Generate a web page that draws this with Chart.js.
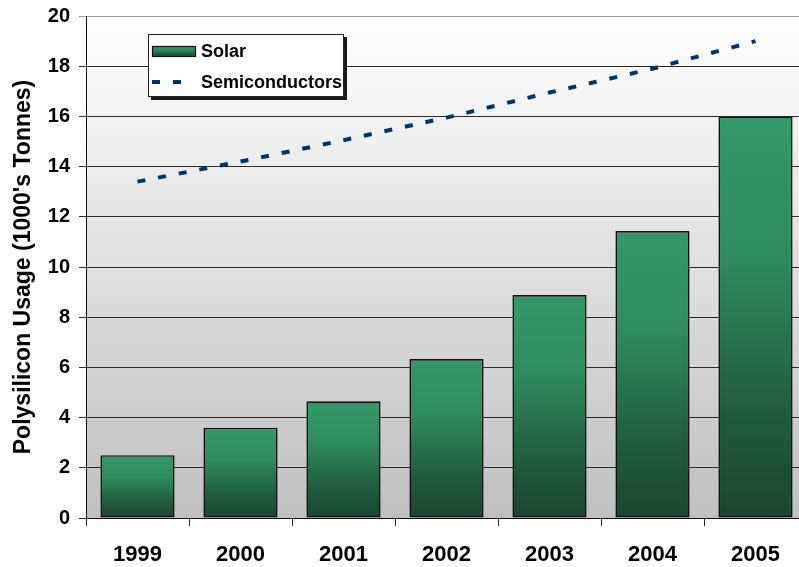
<!DOCTYPE html>
<html>
<head>
<meta charset="utf-8">
<title>Polysilicon Usage</title>
<script src="https://cdn.jsdelivr.net/npm/chart.js@4/dist/chart.umd.min.js"></script>
<style>
  html, body { margin: 0; padding: 0; background: #fff; overflow: hidden; }
  #wrap { position: absolute; left: 0; top: 0; width: 807px; height: 567px; }
</style>
</head>
<body>
<div id="wrap"><canvas id="usage"></canvas></div>
<script>
// Polysilicon usage, thousands of tonnes
var years = ['1999', '2000', '2001', '2002', '2003', '2004', '2005'];
var solarUsage = [2.5, 3.6, 4.65, 6.33, 8.88, 11.43, 16.0];
var semiUsage = [13.4, 14.2, 15.05, 15.95, 16.95, 17.9, 19.0];
var yTicks = [0, 2, 4, 6, 8, 10, 12, 14, 16, 18, 20];

var FONT = "Arial, 'Liberation Sans', sans-serif";
var LINE_DASH = [8, 13];
var SEMI_COLOR = '#003366';

function solarGradient(ctx, top, bottom) {
    var g = ctx.createLinearGradient(0, top, 0, bottom);
    g.addColorStop(0, '#349968');
    g.addColorStop(0.35, '#2f8b5e');
    g.addColorStop(0.75, '#1f5a3e');
    g.addColorStop(1, '#1a4630');
    return g;
}

// grey fade behind the plot
var plotBackground = {
    id: 'plotBackground',
    beforeDraw: function (chart) {
        var a = chart.chartArea, ctx = chart.ctx;
        var g = ctx.createLinearGradient(0, a.top, 0, a.bottom);
        g.addColorStop(0, '#ffffff');
        g.addColorStop(1, '#c0c0c0');
        ctx.save();
        ctx.fillStyle = g;
        ctx.fillRect(a.left, a.top, a.right - a.left, a.bottom - a.top);
        ctx.restore();
    }
};

// boxed legend with drop shadow, sitting inside the plot
var boxLegend = {
    id: 'boxLegend',
    afterDatasetsDraw: function (chart) {
        var ctx = chart.ctx;
        var ds = chart.data.datasets;
        var x = 148, y = 34, w = 196, h = 63;
        ctx.save();
        ctx.fillStyle = '#1a1a1a';
        ctx.fillRect(x + 3, y + 3, w, h);
        ctx.fillStyle = '#ffffff';
        ctx.fillRect(x, y, w, h);
        ctx.strokeStyle = '#222';
        ctx.lineWidth = 1;
        ctx.strokeRect(x + 0.5, y + 0.5, w - 1, h - 1);

        // solar swatch
        ctx.fillStyle = solarGradient(ctx, 46, 57);
        ctx.fillRect(152, 46, 44, 11);
        ctx.strokeStyle = '#111';
        ctx.lineWidth = 1.2;
        ctx.strokeRect(152.5, 46.5, 43, 10);

        // semiconductor swatch
        ctx.strokeStyle = SEMI_COLOR;
        ctx.lineWidth = 4;
        ctx.setLineDash(LINE_DASH);
        ctx.beginPath();
        ctx.moveTo(152, 82);
        ctx.lineTo(184, 82);
        ctx.stroke();
        ctx.setLineDash([]);

        ctx.fillStyle = '#000';
        ctx.font = 'bold 18px ' + FONT;
        ctx.textBaseline = 'middle';
        ctx.textAlign = 'left';
        ctx.fillText(ds[0].label, 201, 52);
        ctx.fillText(ds[1].label, 201, 83);
        ctx.restore();
    }
};

new Chart(document.getElementById('usage'), {
    data: {
        labels: years,
        datasets: [{
            type: 'bar',
            label: 'Solar',
            data: solarUsage,
            order: 2,
            barPercentage: 0.72,
            categoryPercentage: 1,
            borderColor: '#111',
            borderWidth: 1.6,
            borderSkipped: false,
            backgroundColor: function (c) {
                var chart = c.chart;
                if (!chart.chartArea || c.type !== 'data') return '#2f8b5e';
                var y = chart.scales.y;
                return solarGradient(chart.ctx, y.getPixelForValue(c.raw), y.getPixelForValue(0));
            }
        }, {
            type: 'line',
            label: 'Semiconductors',
            data: semiUsage,
            order: 1,
            borderColor: SEMI_COLOR,
            borderWidth: 4,
            borderDash: LINE_DASH,
            borderCapStyle: 'butt',
            pointRadius: 0,
            fill: false,
            tension: 0
        }]
    },
    options: {
        responsive: true,
        maintainAspectRatio: false,
        animation: false,
        layout: { padding: { top: 16, right: 0, left: 0, bottom: 0 } },
        plugins: {
            legend: { display: false },
            tooltip: { enabled: false }
        },
        scales: {
            x: {
                afterFit: function (s) { s.height = 49; },
                border: { display: true, color: '#111', width: 1 },
                grid: {
                    offset: true,
                    drawOnChartArea: false,
                    drawTicks: true,
                    tickLength: 8,
                    color: '#222'
                },
                ticks: {
                    color: '#000',
                    padding: 16,
                    font: { family: FONT, size: 22, weight: 'bold' }
                }
            },
            y: {
                min: 0,
                max: 20,
                afterFit: function (s) {
                    s.width = 86;
                    // let the layout padding alone set the plot top
                    s.paddingTop = 0;
                    s.paddingBottom = 0;
                },
                afterBuildTicks: function (s) {
                    s.ticks = yTicks.map(function (v) { return { value: v }; });
                },
                border: { display: true, color: '#111', width: 1 },
                grid: {
                    drawTicks: true,
                    tickLength: 7,
                    color: function (c) {
                        return c.tick && c.tick.value === 20 ? '#9a9a9a' : '#2a2a2a';
                    }
                },
                ticks: {
                    color: '#000',
                    padding: 9,
                    font: { family: FONT, size: 20, weight: 'bold' }
                },
                title: {
                    display: true,
                    text: "Polysilicon Usage (1000's Tonnes)",
                    color: '#000',
                    padding: { top: 10, bottom: 0 },
                    font: { family: FONT, size: 23, weight: 'bold' }
                }
            }
        }
    },
    plugins: [plotBackground, boxLegend]
});
</script>
</body>
</html>
